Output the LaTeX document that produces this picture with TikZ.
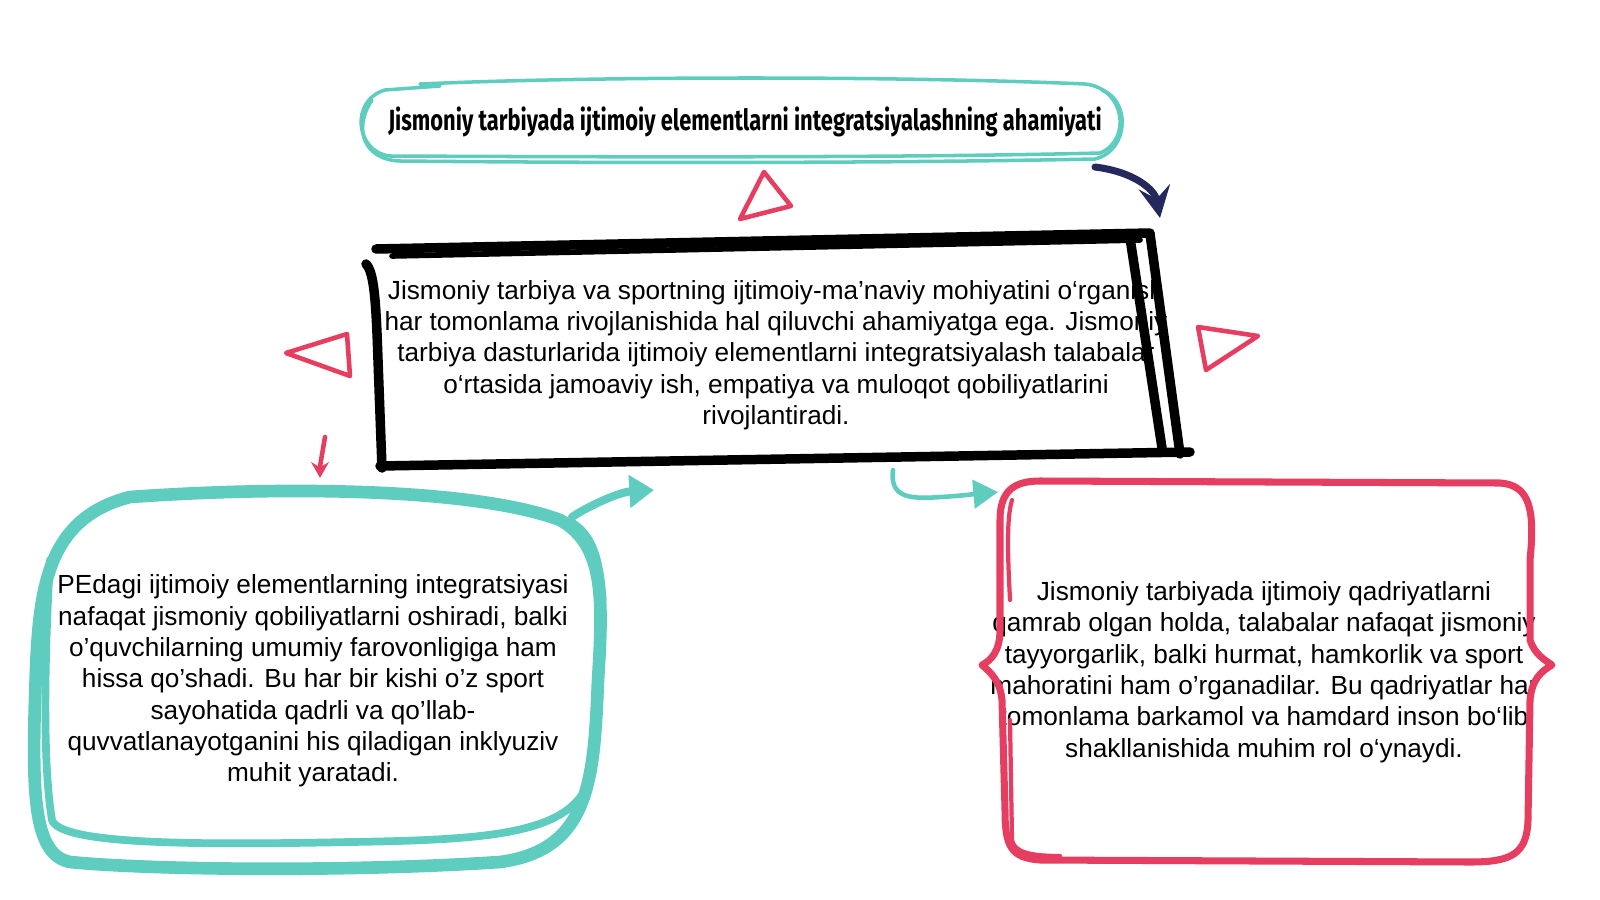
\documentclass[tikz,border=0pt]{standalone}
\usepackage{fontspec}
\setmainfont{Liberation Sans}
\newfontfamily\titlefont[FakeStretch=0.75]{Fira Sans Bold}
\usetikzlibrary{arrows.meta}

\definecolor{SketchTeal}{RGB}{94,204,190}
\definecolor{SketchRed}{RGB}{230,62,96}
\definecolor{SketchNavy}{RGB}{36,40,92}

\tikzset{
	tealthin/.style={draw=SketchTeal, line width=1pt, line cap=round, line join=round},
	tealthick/.style={draw=SketchTeal, line width=3.6pt, line cap=round, line join=round},
	blackthick/.style={draw=black, line width=2.7pt, line cap=round, line join=round},
	redline/.style={draw=SketchRed, line width=2pt, line cap=round, line join=round},
	redtri/.style={draw=SketchRed, line width=1.3pt, line join=round},
	bodytext/.style={align=center, font=\fontsize{7.45}{8.9}\selectfont, text=black, inner sep=0pt},
	titletext/.style={align=center, font=\titlefont\fontsize{8.3}{10}\selectfont, text=black, inner sep=0pt},
}

\begin{document}
\begin{tikzpicture}[x=0.01cm, y=-0.01cm]

	\path [use as bounding box, fill=white] (0,0) rectangle (1600,900);

	% Texts

	\node [titletext] (title) at (745,122) {Jismoniy tarbiyada ijtimoiy elementlarni integratsiyalashning ahamiyati};
	\node [bodytext] (centre) at (776,355) {Jismoniy tarbiya va sportning ijtimoiy-ma’naviy mohiyatini o‘rganish\\har tomonlama rivojlanishida hal qiluvchi ahamiyatga ega. Jismoniy\\tarbiya dasturlarida ijtimoiy elementlarni integratsiyalash talabalar\\o‘rtasida jamoaviy ish, empatiya va muloqot qobiliyatlarini\\rivojlantiradi.};
	\node [bodytext] (left) at (313,681) {PEdagi ijtimoiy elementlarning integratsiyasi\\nafaqat jismoniy qobiliyatlarni oshiradi, balki\\o'quvchilarning umumiy farovonligiga ham\\hissa qo'shadi. Bu har bir kishi o'z sport\\sayohatida qadrli va qo'llab-\\quvvatlanayotganini his qiladigan inklyuziv\\muhit yaratadi.};
	\node [bodytext] (right) at (1264,672) {Jismoniy tarbiyada ijtimoiy qadriyatlarni\\qamrab olgan holda, talabalar nafaqat jismoniy\\tayyorgarlik, balki hurmat, hamkorlik va sport\\mahoratini ham o'rganadilar. Bu qadriyatlar har\\tomonlama barkamol va hamdard inson bo‘lib\\shakllanishida muhim rol o‘ynaydi.};

	% Title frame

	\draw [tealthin] (420,84) .. controls (600,76) and (900,76) .. (1085,84) .. controls (1125,88) and (1132,140) .. (1100,153) .. controls (900,158) and (600,157) .. (390,156) .. controls (355,152) and (350,100) .. (385,90) -- (440,86);
	\draw [tealthin] (372,100) .. controls (352,130) and (365,160) .. (400,161) .. controls (700,164) and (950,162) .. (1095,159) .. controls (1130,150) and (1130,100) .. (1102,90);

	% Centre frame

	\draw [blackthick] (376,249) -- (1150,233);
	\draw [blackthick, line width=1.6pt] (392,256) -- (1140,240);
	\draw [blackthick] (366,264) .. controls (374,272) and (376,300) .. (378,360) -- (382,468);
	\draw [blackthick] (380,466) -- (1190,452);
	\draw [blackthick] (1130,238) -- (1162,448);
	\draw [blackthick] (1150,234) -- (1180,454);

	% Left frame

	\draw [tealthick] (130,497) .. controls (300,485) and (480,490) .. (560,520) .. controls (605,545) and (603,600) .. (598,680) .. controls (594,780) and (590,850) .. (500,862) .. controls (350,872) and (150,870) .. (70,862) .. controls (35,855) and (32,800) .. (35,700) .. controls (38,600) and (40,520) .. (130,497);
	\draw [tealthick, line width=2.2pt] (50,560) .. controls (45,650) and (42,760) .. (52,820) .. controls (60,845) and (200,845) .. (350,842) .. controls (480,840) and (560,835) .. (585,790);
	\draw [tealthick, line width=2pt] (572,522) .. controls (594,536) and (600,560) .. (603,600);

	% Right frame

	\draw [redline] (1040,481) -- (1500,483) .. controls (1530,485) and (1535,510) .. (1530,560) -- (1530,640) .. controls (1535,655) and (1545,660) .. (1552,665) .. controls (1540,672) and (1532,680) .. (1530,700) -- (1528,820) .. controls (1527,855) and (1510,862) .. (1470,862) -- (1040,860) .. controls (1010,858) and (1005,845) .. (1005,810) -- (1002,700) .. controls (1000,680) and (990,672) .. (982,665) .. controls (992,660) and (1000,650) .. (1000,630) -- (1000,520) .. controls (1000,490) and (1015,481) .. (1040,481);
	\draw [redline, line width=1.2pt] (1012,500) .. controls (1006,520) and (1008,560) .. (1010,600);
	\draw [redline, line width=1.2pt] (1010,720) -- (1012,840) .. controls (1014,852) and (1030,856) .. (1060,856);

	% Triangles

	\draw [redtri] (764,172) -- (791,206) -- (740,219) -- cycle;
	\draw [redtri] (286,353) -- (347,334) -- (350,376) -- cycle;
	\draw [redtri] (1198,327) -- (1258,336) -- (1206,370) -- cycle;

	% Arrows

	\coordinate (navy from) at (1095,167);
	\coordinate (navy to) at (1160,218);
	\coordinate (pink from) at (325,437);
	\coordinate (pink to) at (320,478);
	\coordinate (lefty from) at (572,517);
	\coordinate (lefty to) at (654,490);
	\coordinate (hook from) at (893,470);
	\coordinate (hook to) at (998,492);

	\draw [draw=SketchNavy, line width=2pt, line cap=round, -{Stealth[length=9pt, width=9pt, inset=3.5pt]}] (navy from) .. controls (1135,172) and (1155,190) .. (navy to);
	\draw [draw=SketchRed, line width=1.3pt, line cap=round, -{Stealth[length=4.5pt, width=5pt, inset=1.5pt]}] (pink from) .. controls (322,455) and (320,465) .. (pink to);
	\draw [draw=SketchTeal, line width=2.3pt, line cap=round, -{Triangle[length=7pt, width=9pt]}] (lefty from) .. controls (590,505) and (620,492) .. (lefty to);
	\draw [draw=SketchTeal, line width=1.3pt, line cap=round, -{Triangle[length=7pt, width=8pt]}] (hook from) .. controls (890,495) and (905,500) .. (940,497) .. controls (960,496) and (975,494) .. (hook to);

\end{tikzpicture}
\end{document}
